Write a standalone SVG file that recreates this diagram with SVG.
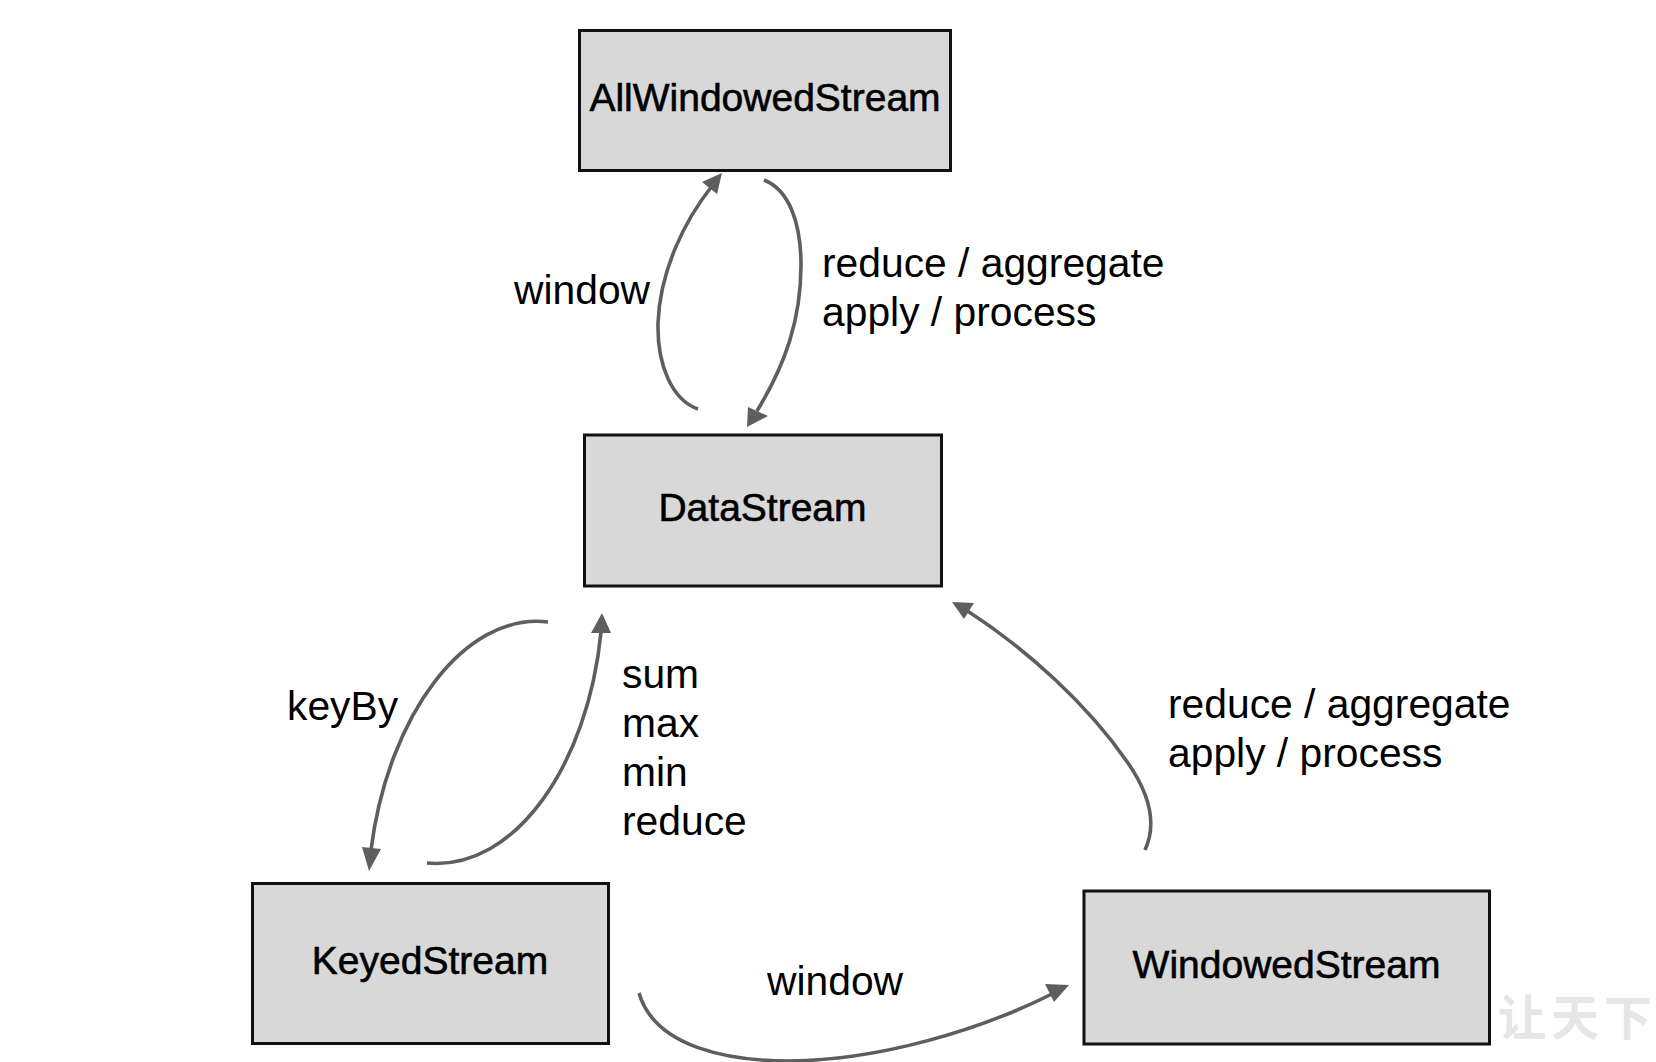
<svg xmlns="http://www.w3.org/2000/svg" width="1656" height="1062" viewBox="0 0 1656 1062">
<style>
.box{fill:#d8d8d8;stroke:#111;stroke-width:3}
.name{font-family:"Liberation Sans",Arial,sans-serif;font-size:39px;fill:#000;stroke:#000;stroke-width:.6;text-anchor:middle}
.lbl{font-family:"Liberation Sans",Arial,sans-serif;font-size:40.8px;fill:#000}
.wm{font-family:"Noto Sans CJK SC",sans-serif;font-size:48px;font-weight:700;fill:#e6e6e6}
.c{fill:none;stroke:#5e5e5e;stroke-width:3.6;stroke-linecap:butt}
.h{fill:#5e5e5e}
</style>
<rect width="1656" height="1062" fill="#fff"/>
<g id="AllWindowedStream"><rect class="box" x="579.500" y="30.500" width="371" height="140"/><text class="name" x="765" y="111">AllWindowedStream</text></g>
<g id="DataStream"><rect class="box" x="584.500" y="435" width="357" height="151"/><text class="name" x="762.500" y="521">DataStream</text></g>
<g id="KeyedStream"><rect class="box" x="252.500" y="883.500" width="356" height="160"/><text class="name" x="430" y="974">KeyedStream</text></g>
<g id="WindowedStream"><rect class="box" x="1084" y="891" width="405.500" height="153"/><text class="name" x="1286.500" y="978">WindowedStream</text></g>
<g id="connectors">
<path class="c" d="M698 409C672 400 657 365 658 323C660 270 685 220 712 186"/>
<polygon class="h" points="722,173 702,182 717,194"/>
<path class="c" d="M764 180C790 190 801 225 801 265C801 320 785 365 757 411"/>
<polygon class="h" points="747,427 748,407 768,416"/>
<path class="c" d="M548 622C465 612 388 715 371 850"/>
<polygon class="h" points="369,871 362,847 381,849"/>
<path class="c" d="M427 863C515 871 588 765 601 632"/>
<polygon class="h" points="602,613 591,633 611,633"/>
<path class="c" d="M639 993C655 1048 730 1061 790 1061C880 1060 980 1030 1052 994"/>
<polygon class="h" points="1069,985 1045,984 1054,1002"/>
<path class="c" d="M1145 850C1158 822 1148 792 1128 763C1088 705 1028 650 966 610"/>
<polygon class="h" points="952,602 974,603 964,619"/>
</g>
<g id="labels">
<text class="lbl" x="514" y="304">window</text>
<text class="lbl" x="822" y="277">reduce / aggregate</text>
<text class="lbl" x="822" y="326">apply / process</text>
<text class="lbl" x="287" y="720">keyBy</text>
<text class="lbl" x="622" y="688">sum</text>
<text class="lbl" x="622" y="737">max</text>
<text class="lbl" x="622" y="786">min</text>
<text class="lbl" x="622" y="835">reduce</text>
<text class="lbl" x="767" y="995">window</text>
<text class="lbl" x="1168" y="718">reduce / aggregate</text>
<text class="lbl" x="1168" y="767">apply / process</text>
</g>
<text class="wm" x="1498 1551 1604" y="1035">让天下</text>
</svg>
